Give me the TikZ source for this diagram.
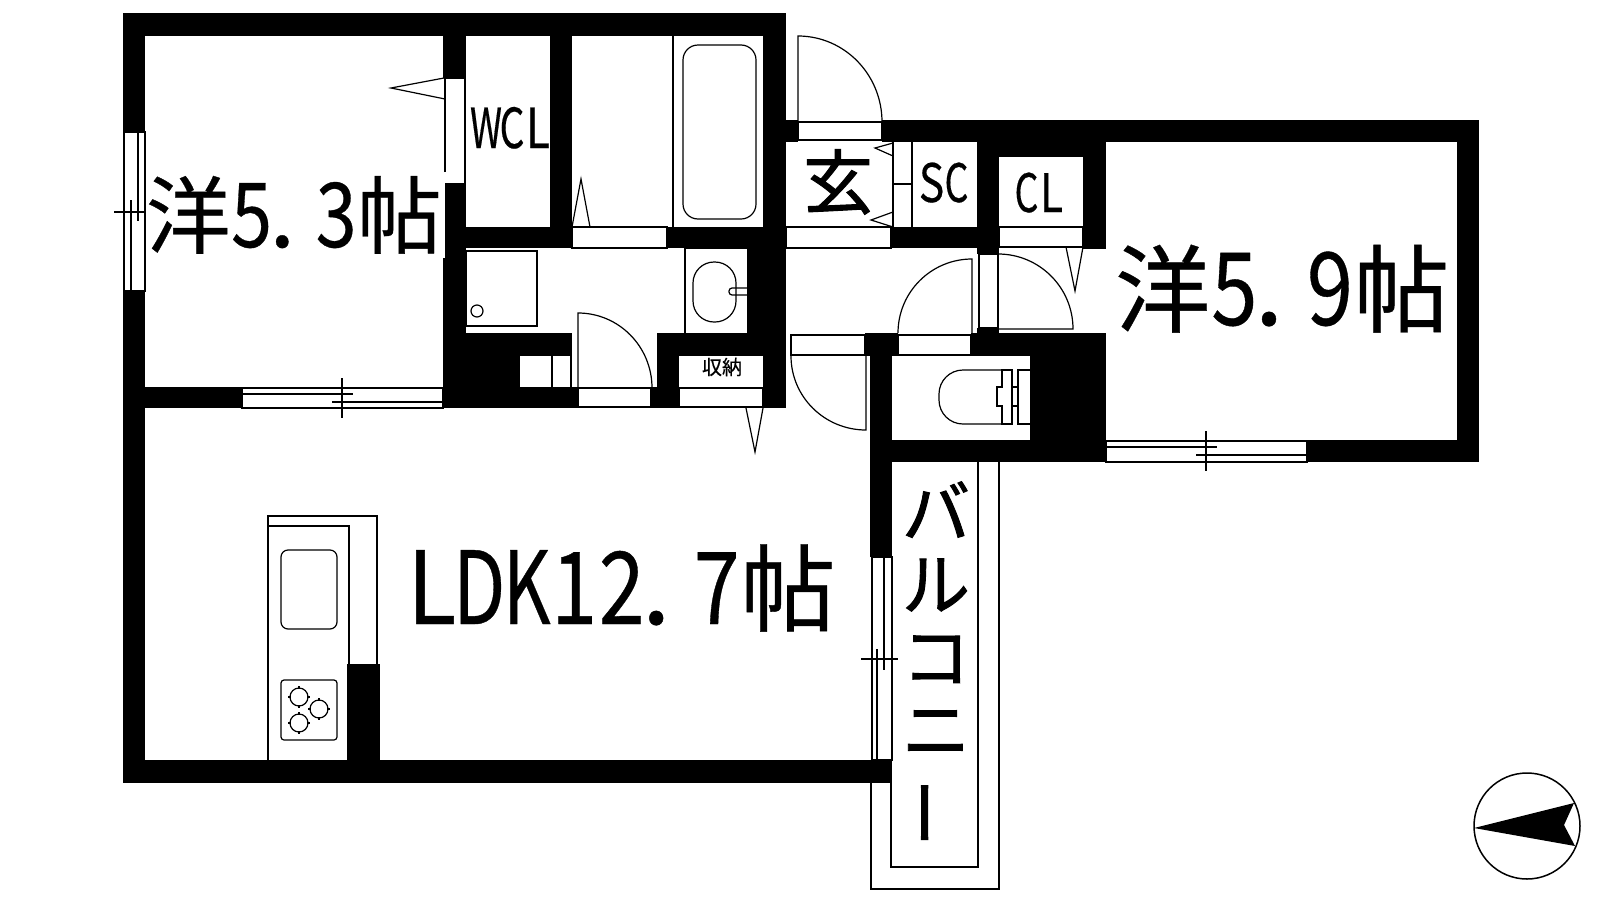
\documentclass[tikz,border=0pt]{standalone}
\usepackage{fontspec}
\usepackage{graphicx}
\setmainfont[FakeBold=0.4]{Noto Sans CJK JP}
\newfontfamily\heavyfont[FakeBold=1.4]{Noto Sans CJK JP}
\newcommand{\hw}[2][.87]{\makebox[.5em]{\scalebox{#1}[1.06]{#2}}}
\newcommand{\hp}{\makebox[.5em][l]{\hspace{-.04em}\scalebox{1.1}{.}}}
\tikzset{
	wall/.style={fill=black, draw=none},
	thin line/.style={draw=black, line width=1.2pt},
	label/.style={inner sep=0pt, outer sep=0pt, anchor=base west, text=black}
}

\begin{document}
\begin{tikzpicture}[x=1pt, y=-1pt]
			\useasboundingbox (0,0) rectangle (1600,900);
			
			\fill[wall] (123,13) rectangle (786,36);
			\fill[wall] (123,13) rectangle (145,132);
			\fill[wall] (123,291) rectangle (145,783);
			\fill[wall] (123,760) rectangle (892,783);
			\fill[wall] (145,387) rectangle (242,408);
			\fill[wall] (443,36) rectangle (466,78);
			\fill[wall] (445,184) rectangle (466,258);
			\fill[wall] (443,258) rectangle (466,408);
			\fill[wall] (550,36) rectangle (572,248);
			\fill[wall] (466,227) rectangle (572,248);
			\fill[wall] (466,333) rectangle (572,356);
			\fill[wall] (466,356) rectangle (519,408);
			\fill[wall] (519,387) rectangle (578,408);
			\fill[wall] (651,387) rectangle (679,408);
			\fill[wall] (657,333) rectangle (786,356);
			\fill[wall] (657,333) rectangle (679,408);
			\fill[wall] (763,13) rectangle (786,408);
			\fill[wall] (747,248) rectangle (786,333);
			\fill[wall] (667,227) rectangle (786,248);
			\fill[wall] (786,120) rectangle (798,142);
			\fill[wall] (882,120) rectangle (1479,142);
			\fill[wall] (1457,120) rectangle (1479,462);
			\fill[wall] (1307,440) rectangle (1479,462);
			\fill[wall] (891,227) rectangle (999,248);
			\fill[wall] (977,142) rectangle (999,254);
			\fill[wall] (977,142) rectangle (1106,157);
			\fill[wall] (1083,142) rectangle (1106,249);
			\fill[wall] (977,328) rectangle (999,333);
			\fill[wall] (865,333) rectangle (898,356);
			\fill[wall] (971,333) rectangle (1106,356);
			\fill[wall] (870,333) rectangle (892,557);
			\fill[wall] (870,440) rectangle (1106,462);
			\fill[wall] (1030,333) rectangle (1106,462);
			\fill[wall] (347,664) rectangle (380,760);
			
			\draw[thin line] (445,172) -- (445,78) -- (465,78) -- (465,184) -- (445,184);
			\draw[thin line] (444,78) -- (391,88) -- (445,99);
			\draw[thin line] (519,387) -- (519,356);
			\draw[thin line] (552,356) -- (552,387);
			\draw[thin line] (571,356) -- (571,387);
			
			\draw[thin line] (124,132) rectangle (145,291);
			\draw[thin line] (131,200) -- (131,291);
			\draw[thin line] (138,132) -- (138,221);
			\draw[thin line] (114,212) -- (146,212);
			
			\draw[thin line] (242,388) rectangle (443,408);
			\draw[thin line] (242,394) -- (353,394);
			\draw[thin line] (332,402) -- (443,402);
			\draw[thin line] (342,378) -- (342,418);
			
			\draw[thin line] (1106,441) rectangle (1307,462);
			\draw[thin line] (1106,447) -- (1217,447);
			\draw[thin line] (1196,455) -- (1307,455);
			\draw[thin line] (1206,431) -- (1206,471);
			
			\draw[thin line] (872,557) rectangle (892,760);
			\draw[thin line] (877,649) -- (877,760);
			\draw[thin line] (884,557) -- (884,670);
			\draw[thin line] (861,659) -- (898,659);
			
			\draw[thin line] (871,783) -- (871,889) -- (999,889) -- (999,462);
			\draw[thin line] (891,783) -- (891,867) -- (978,867) -- (978,462);
			
			\draw[thin line] (673,36) -- (673,227);
			\draw[thin line, rounded corners=15pt] (683,45) rectangle (756,219);
			\draw[thin line] (572,227) rectangle (667,248);
			\draw[thin line] (572,227) -- (581,179) -- (590,227);
			
			\draw[thin line] (466,251) rectangle (537,326);
			\draw[thin line] (477,311) circle[radius=6pt];
			
			\draw[thin line] (685,333) -- (685,248) -- (747,248);
			\draw[thin line, rounded corners=21pt] (693,262) rectangle (736,322);
			\draw[thin line, rounded corners=3pt] (747,288) -- (729,288) -- (729,295) -- (747,295);
			
			\draw[thin line] (578,388) rectangle (651,407);
			\draw[thin line] (578,388) -- (578,313) arc[start angle=90, end angle=0, x radius=74pt, y radius=75pt];
			
			\draw[thin line] (679,388) rectangle (763,407);
			\draw[thin line] (746,408) -- (755,452) -- (763,408);
			
			\draw[thin line] (798,122) rectangle (882,140);
			\draw[thin line] (798,122) -- (798,36) arc[start angle=90, end angle=0, x radius=84pt, y radius=86pt];
			
			\draw[thin line] (786,227) rectangle (891,248);
			\draw[thin line] (893,142) -- (893,227);
			\draw[thin line] (912,142) -- (912,227);
			\draw[thin line] (893,184) -- (912,184);
			\draw[thin line] (893,143) -- (875,148) -- (893,156);
			\draw[thin line] (893,212) -- (871,220) -- (893,227);
			
			\draw[thin line] (999,227) rectangle (1083,247);
			\draw[thin line] (1066,247) -- (1075,291) -- (1083,247);
			
			\draw[thin line] (979,254) rectangle (998,328);
			\draw[thin line] (998,254) arc[start angle=90, end angle=0, radius=75pt] -- (998,329);
			
			\draw[thin line] (898,335) rectangle (971,355);
			\draw[thin line] (898,333) arc[start angle=180, end angle=90, radius=74pt] -- (972,333);
			
			\draw[thin line] (791,335) rectangle (865,355);
			\draw[thin line] (791,356) arc[start angle=180, end angle=270, x radius=75pt, y radius=74pt] -- (866,356);
			
			\draw[thin line, rounded corners=24pt] (1002,370) -- (939,370) -- (939,424) -- (1002,424);
			\draw[thin line] (1002,370) -- (1012,370) -- (1012,424) -- (1002,424) -- (1002,406) -- (997,406) -- (997,387) -- (1002,387) -- cycle;
			\draw[thin line] (1030,370) -- (1018,370) -- (1018,424) -- (1030,424);
			\draw[thin line] (1012,387) -- (1018,387);
			\draw[thin line] (1012,406) -- (1018,406);
			
			\draw[thin line] (268,760) -- (268,516) -- (377,516) -- (377,664);
			\draw[thin line] (268,526) -- (349,526) -- (349,664);
			\draw[thin line, rounded corners=7pt] (281,550) rectangle (337,629);
			\draw[thin line, rounded corners=3pt] (281,680) rectangle (337,740);
			\foreach \bx/\by in {299/697, 319/709, 299/723}{
				\draw[thin line] (\bx,\by) circle[radius=9pt];
				\draw[thin line] (\bx-11,\by) -- (\bx-8,\by);
				\draw[thin line] (\bx+8,\by) -- (\bx+11,\by);
				\draw[thin line] (\bx,\by-11) -- (\bx,\by-8);
				\draw[thin line] (\bx,\by+8) -- (\bx,\by+11);
			}
			
			\draw[line width=1.5pt] (1527,826) circle[radius=53pt];
			\fill (1474,828) -- (1574,803) -- (1564,825) -- (1575,846) -- cycle;
			
			\node[label, font=\fontsize{84.5pt}{84.5pt}\selectfont] (room1) at (146,247) {洋\hw{5}\hp\hw{3}帖};
			\node[label, font=\fontsize{95.5pt}{95.5pt}\selectfont] (room2) at (1115,325) {洋\hw{5}\hp\hw{9}帖};
			\node[label, font=\fontsize{95pt}{95pt}\selectfont] (ldk) at (408,624) {\hw[.95]{L}\hw[.8]{D}\hw[.78]{K}\hw{1}\hw{2}\hp\hw{7}帖};
			\node[label, font=\fontsize{52pt}{52pt}\selectfont] (wcl) at (473,148) {\hw[.7]{W}\hw[.75]{C}\hw[.85]{L}};
			\node[label, font=\fontsize{50pt}{50pt}\selectfont] (sc) at (919,202) {\hw[.85]{S}\hw[.75]{C}};
			\node[label, font=\fontsize{50pt}{50pt}\selectfont] (cl) at (1014,212) {\hw[.75]{C}\hw[.85]{L}};
			\node[inner sep=0pt, font=\heavyfont\fontsize{70pt}{70pt}\selectfont] (genkan) at (838,182) {玄};
			\node[inner sep=0pt, font=\fontsize{20pt}{20pt}\selectfont] (shuno) at (722,367) {収納};
			\node[inner sep=0pt, align=center, font=\heavyfont\fontsize{68pt}{72.5pt}\selectfont] (balcony) at (936,664) {バ\\ル\\コ\\ニ\\\rotatebox[origin=c]{90}{ー}};
			
		\end{tikzpicture}
\end{document}
